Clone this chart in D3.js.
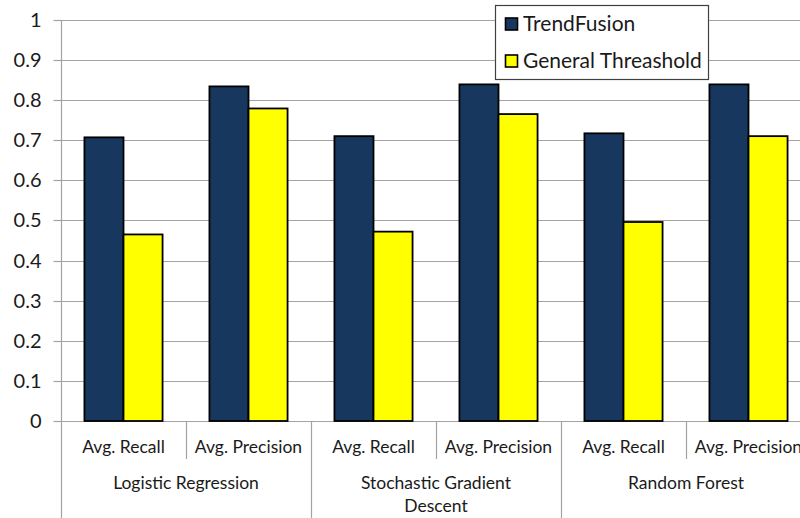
<!DOCTYPE html>
<html>
<head>
<meta charset="utf-8">
<script src="https://cdn.jsdelivr.net/npm/d3@7"></script>
<style>
  html, body { margin: 0; padding: 0; background: #fff; }
  svg { display: block; }
  text { font-family: Lato, "Open Sans", sans-serif; fill: #1a1a1a; }
</style>
</head>
<body>
<svg id="chart" width="800" height="518"></svg>
<script>
// Classifiers, each evaluated on two metrics
const groups = ["Logistic Regression", "Stochastic Gradient Descent", "Random Forest"];
const groupLines = [["Logistic Regression"], ["Stochastic Gradient", "Descent"], ["Random Forest"]];
const metrics = ["Avg. Recall", "Avg. Precision"];
const seriesNames = ["TrendFusion", "General Threashold"];
const seriesColors = ["#17375E", "#FFFF00"];

// Values per group, in metric order (recall, precision)
const trendFusion = [
  [0.707, 0.834],
  [0.710, 0.839],
  [0.717, 0.839]
];
const generalThreshold = [
  [0.465, 0.779],
  [0.472, 0.765],
  [0.496, 0.710]
];
const yTicks = [0, 0.1, 0.2, 0.3, 0.4, 0.5, 0.6, 0.7, 0.8, 0.9, 1];

const svg = d3.select("#chart");
const W = 800, H = 518;
const left = 61, right = 811, zeroY = 421, topY = 19.8;

const y = d3.scaleLinear().domain([0, 1]).range([zeroY, topY]);
const xGroup = d3.scaleBand().domain(groups).range([left, right]).padding(0);
const xMetric = d3.scaleBand().domain(metrics).range([0, xGroup.bandwidth()]).padding(0);
const xSeries = d3.scaleBand().domain(seriesNames)
  .range([0, xMetric.bandwidth()]).paddingInner(0).paddingOuter(0.6);

const gridColor = "#a3a3a3";

// Horizontal gridlines
svg.append("g").selectAll("line").data(yTicks.filter(d => d > 0)).join("line")
  .attr("x1", left).attr("x2", W)
  .attr("y1", d => Math.round(y(d)) + 0.5).attr("y2", d => Math.round(y(d)) + 0.5)
  .attr("stroke", gridColor).attr("stroke-width", 1.2);

// Y axis
const yAxis = svg.append("g")
  .attr("transform", `translate(${left + 0.5},0)`)
  .call(d3.axisLeft(y).tickValues(yTicks).tickSize(8).tickPadding(12)
    .tickFormat(d3.format("~g")));
yAxis.select(".domain").remove();
yAxis.selectAll(".tick line").attr("stroke", gridColor).attr("stroke-width", 1.2);
yAxis.selectAll(".tick").attr("transform", d => `translate(0,${Math.round(y(d)) + 0.5})`);
yAxis.selectAll(".tick text").style("font-size", "20px").attr("fill", "#1a1a1a")
  .attr("dy", "0.34em")
  .style("font-family", "Lato, sans-serif");

// Vertical axis line, continuing through the label rows
svg.append("line")
  .attr("x1", left + 0.5).attr("x2", left + 0.5)
  .attr("y1", Math.round(topY)).attr("y2", H)
  .attr("stroke", gridColor).attr("stroke-width", 1.2);

// Baseline
svg.append("line")
  .attr("x1", left).attr("x2", W)
  .attr("y1", zeroY + 0.5).attr("y2", zeroY + 0.5)
  .attr("stroke", gridColor).attr("stroke-width", 1.2);

// Bars
const rows = [];
groups.forEach((g, gi) => {
  metrics.forEach((m, mi) => {
    rows.push({ g, m, s: seriesNames[0], v: trendFusion[gi][mi], c: seriesColors[0] });
    rows.push({ g, m, s: seriesNames[1], v: generalThreshold[gi][mi], c: seriesColors[1] });
  });
});
svg.append("g").selectAll("rect").data(rows).join("rect")
  .attr("x", d => xGroup(d.g) + xMetric(d.m) + xSeries(d.s))
  .attr("y", d => y(d.v))
  .attr("width", xSeries.bandwidth())
  .attr("height", d => y(0) - y(d.v))
  .attr("fill", d => d.c)
  .attr("stroke", "#000").attr("stroke-width", 1.8);

// Category label row
const labelRowBottom = 459;
const catAxis = svg.append("g");
groups.forEach((g, gi) => {
  metrics.forEach((m, mi) => {
    const x0 = xGroup(g) + xMetric(m);
    catAxis.append("text")
      .attr("x", x0 + xMetric.bandwidth() / 2).attr("y", 453)
      .attr("text-anchor", "middle").style("font-size", "17.5px")
      .text(m);
    if (mi > 0) {
      catAxis.append("line")
        .attr("x1", Math.round(x0) + 0.5).attr("x2", Math.round(x0) + 0.5)
        .attr("y1", zeroY).attr("y2", labelRowBottom)
        .attr("stroke", gridColor).attr("stroke-width", 1.2);
    }
  });
  if (gi > 0) {
    catAxis.append("line")
      .attr("x1", Math.round(xGroup(g)) + 0.5).attr("x2", Math.round(xGroup(g)) + 0.5)
      .attr("y1", zeroY).attr("y2", H)
      .attr("stroke", gridColor).attr("stroke-width", 1.2);
  }
  const t = catAxis.append("text")
    .attr("x", xGroup(g) + xGroup.bandwidth() / 2).attr("y", 488.5)
    .attr("text-anchor", "middle").style("font-size", "17.5px");
  groupLines[gi].forEach((line, li) => {
    t.append("tspan").attr("x", xGroup(g) + xGroup.bandwidth() / 2)
      .attr("dy", li === 0 ? 0 : 23.5).text(line);
  });
});

// Legend
const legend = svg.append("g");
legend.append("rect")
  .attr("x", 495.5).attr("y", 5.5).attr("width", 213).attr("height", 74)
  .attr("fill", "#fff").attr("stroke", "#404040").attr("stroke-width", 1.2);
seriesNames.forEach((s, i) => {
  const cy = 24.5 + i * 37;
  legend.append("rect")
    .attr("x", 505.5).attr("y", cy - 6.5).attr("width", 12).attr("height", 12)
    .attr("fill", seriesColors[i]).attr("stroke", "#000").attr("stroke-width", 1.6);
  legend.append("text")
    .attr("x", 523).attr("y", cy + 6.5)
    .style("font-size", "21px").text(s);
});
</script>
</body>
</html>
